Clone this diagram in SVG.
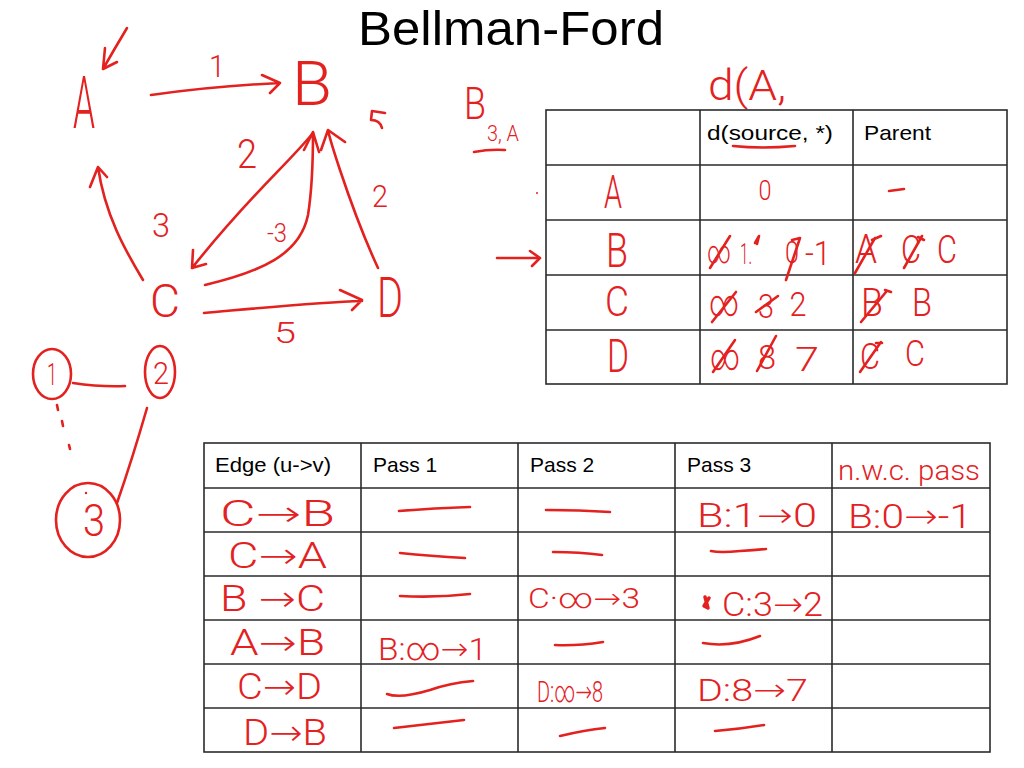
<svg xmlns="http://www.w3.org/2000/svg" width="1024" height="768" viewBox="0 0 1024 768">
<style>
.bg{fill:#fff}
.title{font-family:"Liberation Sans",Arial,sans-serif;font-size:49px;fill:#000}
.lbl{font-family:"Liberation Sans",Arial,sans-serif;font-size:21px;fill:#000}
.hw{font-family:Roboto,"Open Sans","DejaVu Sans",sans-serif;font-weight:300;fill:#e3211f}
.ink{fill:none;stroke:#e3211f;stroke-width:2.6;stroke-linecap:round;stroke-linejoin:round}
.grid{fill:none;stroke:#2b2b2b;stroke-width:1.6}
</style>
<rect class="bg" x="0" y="0" width="1024" height="768"/>
<text class="title" x="511" y="45" text-anchor="middle" textLength="306" lengthAdjust="spacingAndGlyphs">Bellman-Ford</text>

<!-- graph connectors -->
<g id="connectors">
  <path class="ink" d="M127,28 Q115,48 103,69 M105,48 L103,69 L117,62"/>
  <path class="ink" d="M151,95 Q215,86 280,83 M262,75 L280,83 L270,93"/>
  <path class="ink" d="M313,133 C285,167 250,195 192,268 M193,250 L192,268 L206,264"/>
  <path class="ink" d="M205,285 C260,272 300,255 308,215 C312,190 313,160 313,133 M304,150 L313,132 L319,152"/>
  <path class="ink" d="M378,268 C365,240 350,200 340,170 C335,155 330,140 328,130 M321,150 L328,130 L345,142"/>
  <path class="ink" d="M143,280 C125,250 105,215 98,167 M90,187 L98,167 L107,177"/>
  <path class="ink" d="M204,313 C260,308 320,302 362,301 M340,290 L362,300 L352,310"/>
  <path class="ink" d="M385,113 L372,111 L371,120 Q380,120 382,128"/>
  <text class="hw" x="217" y="77" font-size="32" text-anchor="middle" textLength="16" lengthAdjust="spacingAndGlyphs">1</text>
  <text class="hw" x="247" y="168" font-size="40" text-anchor="middle" textLength="20" lengthAdjust="spacingAndGlyphs">2</text>
  <text class="hw" x="277" y="242" font-size="26" text-anchor="middle" textLength="20" lengthAdjust="spacingAndGlyphs">-3</text>
  <text class="hw" x="161" y="237" font-size="34" text-anchor="middle" textLength="18" lengthAdjust="spacingAndGlyphs">3</text>
  <text class="hw" x="380" y="207" font-size="32" text-anchor="middle" textLength="16" lengthAdjust="spacingAndGlyphs">2</text>
  <text class="hw" x="285" y="343" font-size="30" text-anchor="middle" textLength="22" lengthAdjust="spacingAndGlyphs">5</text>
</g>
<g id="node-A"><text class="hw" x="84" y="128" font-size="72" text-anchor="middle" textLength="22" lengthAdjust="spacingAndGlyphs">A</text></g>
<g id="node-B"><text class="hw" x="312" y="105" font-size="62" text-anchor="middle" textLength="40" lengthAdjust="spacingAndGlyphs">B</text></g>
<g id="node-C"><text class="hw" x="165" y="317" font-size="46" text-anchor="middle" textLength="30" lengthAdjust="spacingAndGlyphs">C</text></g>
<g id="node-D"><text class="hw" x="390" y="317" font-size="56" text-anchor="middle" textLength="26" lengthAdjust="spacingAndGlyphs">D</text></g>

<!-- small graph -->
<g id="small-connectors">
  <path class="ink" d="M73,383 Q100,387 125,386"/>
  <path class="ink" d="M147,408 Q132,460 117,503"/>
  <path class="ink" d="M57,405 L58,410 M62,421 L63,426 M69,445 L70,449"/>
</g>
<g id="node-1"><ellipse class="ink" cx="52" cy="374" rx="19" ry="25"/><text class="hw" x="52" y="385" font-size="32" text-anchor="middle" textLength="10" lengthAdjust="spacingAndGlyphs">1</text></g>
<g id="node-2"><ellipse class="ink" cx="160" cy="372" rx="15" ry="26"/><text class="hw" x="161" y="384" font-size="32" text-anchor="middle" textLength="16" lengthAdjust="spacingAndGlyphs">2</text></g>
<g id="node-3"><ellipse class="ink" cx="88" cy="520" rx="32" ry="37"/><circle cx="86" cy="493" r="1.2" fill="#e3211f"/><text class="hw" x="94" y="536" font-size="44" text-anchor="middle" textLength="22" lengthAdjust="spacingAndGlyphs">3</text></g>

<!-- annotations above top table -->
<text class="hw" x="708" y="100" font-size="42" textLength="78" lengthAdjust="spacingAndGlyphs">d(A,</text>
<text class="hw" x="464" y="119" font-size="44" textLength="22" lengthAdjust="spacingAndGlyphs">B</text>
<text class="hw" x="487" y="141" font-size="22" textLength="32" lengthAdjust="spacingAndGlyphs">3, A</text>
<path class="ink" d="M474,152 Q490,149 505,150"/>
<path class="ink" d="M497,258 L540,258 M530,251 L540,258 L532,266"/>
<circle cx="537" cy="193" r="1" fill="#e3211f"/>

<!-- top table -->
<g id="dist-table">
  <rect class="grid" x="546" y="110" width="461" height="274"/>
  <path class="grid" d="M700,110 V384 M853,110 V384 M546,165 H1007 M546,220 H1007 M546,275 H1007 M546,330 H1007"/>
  <text class="lbl" x="707" y="140" textLength="126" lengthAdjust="spacingAndGlyphs">d(source, *)</text>
  <text class="lbl" x="864" y="140" textLength="67" lengthAdjust="spacingAndGlyphs">Parent</text>
  <path class="ink" d="M733,146 Q762,149 795,146"/>
  <!-- row A -->
  <text class="hw" x="613" y="208" font-size="46" text-anchor="middle" textLength="18" lengthAdjust="spacingAndGlyphs">A</text>
  <text class="hw" x="765" y="200" font-size="28" text-anchor="middle" textLength="13" lengthAdjust="spacingAndGlyphs">0</text>
  <path class="ink" d="M889,191 L904,189"/>
  <!-- row B -->
  <text class="hw" x="617" y="267" font-size="48" text-anchor="middle" textLength="22" lengthAdjust="spacingAndGlyphs">B</text>
  <text class="hw" x="707" y="263" font-size="32" textLength="24" lengthAdjust="spacingAndGlyphs">∞</text>
  <path class="ink" d="M710,268 L730,236"/>
  <text class="hw" x="740" y="264" font-size="30" textLength="12" lengthAdjust="spacingAndGlyphs">1.</text>
  <path class="ink" d="M755,243 L759,236 L757,244"/>
  <text class="hw" x="792" y="263" font-size="32" text-anchor="middle" textLength="14" lengthAdjust="spacingAndGlyphs">0</text>
  <path class="ink" d="M786,280 L800,238 L792,240"/>
  <text class="hw" x="818" y="265" font-size="34" text-anchor="middle" textLength="26" lengthAdjust="spacingAndGlyphs">-1</text>
  <text class="hw" x="866" y="263" font-size="40" text-anchor="middle" textLength="22" lengthAdjust="spacingAndGlyphs">A</text>
  <path class="ink" d="M855,273 L875,238 M872,240 L881,236"/>
  <text class="hw" x="911" y="263" font-size="38" text-anchor="middle" textLength="20" lengthAdjust="spacingAndGlyphs">C</text>
  <path class="ink" d="M904,268 L922,236 M918,237 L924,240"/>
  <text class="hw" x="947" y="263" font-size="38" text-anchor="middle" textLength="20" lengthAdjust="spacingAndGlyphs">C</text>
  <!-- row C -->
  <text class="hw" x="617" y="316" font-size="42" text-anchor="middle" textLength="24" lengthAdjust="spacingAndGlyphs">C</text>
  <text class="hw" x="724" y="316" font-size="38" text-anchor="middle" textLength="30" lengthAdjust="spacingAndGlyphs">∞</text>
  <path class="ink" d="M712,322 L736,292"/>
  <text class="hw" x="766" y="318" font-size="34" text-anchor="middle" textLength="16" lengthAdjust="spacingAndGlyphs">3</text>
  <path class="ink" d="M756,312 L778,296"/>
  <text class="hw" x="798" y="316" font-size="34" text-anchor="middle" textLength="17" lengthAdjust="spacingAndGlyphs">2</text>
  <text class="hw" x="872" y="316" font-size="38" text-anchor="middle" textLength="22" lengthAdjust="spacingAndGlyphs">B</text>
  <path class="ink" d="M861,322 L886,292 M885,290 L891,292"/>
  <text class="hw" x="922" y="316" font-size="38" text-anchor="middle" textLength="20" lengthAdjust="spacingAndGlyphs">B</text>
  <!-- row D -->
  <text class="hw" x="618" y="372" font-size="46" text-anchor="middle" textLength="22" lengthAdjust="spacingAndGlyphs">D</text>
  <text class="hw" x="725" y="370" font-size="38" text-anchor="middle" textLength="30" lengthAdjust="spacingAndGlyphs">∞</text>
  <path class="ink" d="M713,372 L735,340"/>
  <text class="hw" x="767" y="369" font-size="34" text-anchor="middle" textLength="18" lengthAdjust="spacingAndGlyphs">8</text>
  <path class="ink" d="M757,371 L776,336"/>
  <text class="hw" x="807" y="371" font-size="34" text-anchor="middle" textLength="24" lengthAdjust="spacingAndGlyphs">7</text>
  <text class="hw" x="870" y="369" font-size="36" text-anchor="middle" textLength="20" lengthAdjust="spacingAndGlyphs">C</text>
  <path class="ink" d="M860,372 L881,342 M876,343 L882,343"/>
  <text class="hw" x="915" y="366" font-size="36" text-anchor="middle" textLength="20" lengthAdjust="spacingAndGlyphs">C</text>
</g>

<!-- bottom table -->
<g id="pass-table">
  <rect class="grid" x="204" y="443" width="786" height="309"/>
  <path class="grid" d="M361,443 V752 M518,443 V752 M675,443 V752 M832,443 V752 M204,488 H990 M204,532 H990 M204,576 H990 M204,620 H990 M204,664 H990 M204,708 H990"/>
  <text class="lbl" x="215" y="472" font-size="22" textLength="116" lengthAdjust="spacingAndGlyphs">Edge (u-&gt;v)</text>
  <text class="lbl" x="373" y="472" font-size="22">Pass 1</text>
  <text class="lbl" x="530" y="472" font-size="22">Pass 2</text>
  <text class="lbl" x="687" y="472" font-size="22">Pass 3</text>
  <text class="hw" x="838" y="480" font-size="28" textLength="142" lengthAdjust="spacingAndGlyphs">n.w.c. pass</text>
  <!-- edges -->
  <text class="hw" x="220" y="526" font-size="36" textLength="115" lengthAdjust="spacingAndGlyphs">C→B</text>
  <text class="hw" x="228" y="568" font-size="36" textLength="99" lengthAdjust="spacingAndGlyphs">C→A</text>
  <text class="hw" x="220" y="611" font-size="36" textLength="105" lengthAdjust="spacingAndGlyphs">B  →C</text>
  <text class="hw" x="230" y="655" font-size="36" textLength="95" lengthAdjust="spacingAndGlyphs">A→B</text>
  <text class="hw" x="237" y="699" font-size="36" textLength="85" lengthAdjust="spacingAndGlyphs">C→D</text>
  <text class="hw" x="243" y="745" font-size="36" textLength="84" lengthAdjust="spacingAndGlyphs">D→B</text>
  <!-- pass 1 -->
  <path class="ink" d="M399,511 Q435,508 470,507"/>
  <path class="ink" d="M400,553 Q430,556 465,558"/>
  <path class="ink" d="M400,596 Q435,598 470,594"/>
  <text class="hw" x="378" y="660" font-size="32" textLength="109" lengthAdjust="spacingAndGlyphs">B:∞→1</text>
  <path class="ink" d="M387,694 Q400,699 430,690 Q450,683 473,681"/>
  <path class="ink" d="M394,728 Q430,724 464,720"/>
  <!-- pass 2 -->
  <path class="ink" d="M546,510 Q580,510 610,512"/>
  <path class="ink" d="M553,552 Q580,552 602,555"/>
  <text class="hw" x="528" y="608" font-size="28" textLength="112" lengthAdjust="spacingAndGlyphs">C·∞→3</text>
  <path class="ink" d="M555,645 Q578,646 603,642"/>
  <text class="hw" x="537" y="702" font-size="30" textLength="66" lengthAdjust="spacingAndGlyphs">D:∞→8</text>
  <path class="ink" d="M560,736 Q585,730 605,728"/>
  <!-- pass 3 -->
  <text class="hw" x="697" y="527" font-size="34" textLength="120" lengthAdjust="spacingAndGlyphs">B:1→0</text>
  <path class="ink" d="M711,551 Q720,553 740,551 Q755,550 766,549"/>
  <path class="ink" d="M705,597 L708,608 L704,606 L709,598" style="stroke-width:3.5"/>
  <text class="hw" x="722" y="616" font-size="34" textLength="101" lengthAdjust="spacingAndGlyphs">C:3→2</text>
  <path class="ink" d="M703,643 Q730,648 760,636"/>
  <text class="hw" x="697" y="701" font-size="32" textLength="111" lengthAdjust="spacingAndGlyphs">D:8→7</text>
  <path class="ink" d="M715,731 Q740,729 764,725"/>
  <!-- n.w.c. pass -->
  <text class="hw" x="848" y="528" font-size="34" textLength="124" lengthAdjust="spacingAndGlyphs">B:0→-1</text>
</g>
</svg>
